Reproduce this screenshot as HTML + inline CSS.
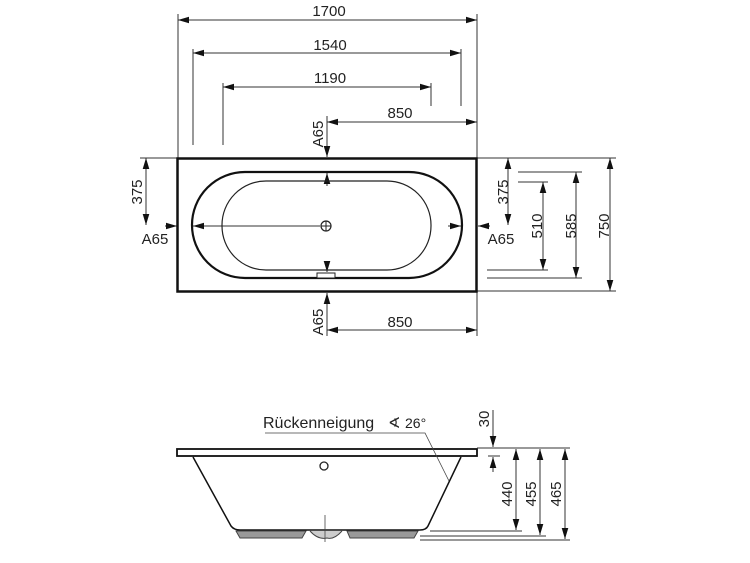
<!DOCTYPE html>
<html><head><meta charset="utf-8"><style>
html,body{margin:0;padding:0;background:#fff;}
svg{display:block;}
text{font-family:"Liberation Sans",sans-serif;font-size:15px;fill:#222;}
</style></head><body>
<svg width="750" height="563" viewBox="0 0 750 563" xmlns="http://www.w3.org/2000/svg">
<defs>
<marker id="a" viewBox="0 0 10 6" refX="10" refY="3" markerWidth="11" markerHeight="7" markerUnits="userSpaceOnUse" orient="auto-start-reverse"><path d="M0,0L10,3L0,6z" fill="#111"/></marker>
</defs>
<g stroke="#333" stroke-width="1" fill="none">
<line x1="178" y1="20" x2="477" y2="20" marker-start="url(#a)" marker-end="url(#a)"/>
<line x1="193" y1="53" x2="461" y2="53" marker-start="url(#a)" marker-end="url(#a)"/>
<line x1="223" y1="87" x2="431" y2="87" marker-start="url(#a)" marker-end="url(#a)"/>
<line x1="327" y1="122" x2="477" y2="122" marker-start="url(#a)" marker-end="url(#a)"/>
<line x1="178" y1="14" x2="178" y2="158"/>
<line x1="477" y1="14" x2="477" y2="158"/>
<line x1="193" y1="49" x2="193" y2="145"/>
<line x1="461" y1="49" x2="461" y2="106"/>
<line x1="223" y1="83" x2="223" y2="145"/>
<line x1="431" y1="83" x2="431" y2="106"/>
<line x1="327" y1="116" x2="327" y2="157" marker-end="url(#a)"/>
<line x1="327" y1="186" x2="327" y2="173" marker-end="url(#a)"/>
<line x1="327" y1="262" x2="327" y2="272" marker-end="url(#a)"/>
<line x1="327" y1="336" x2="327" y2="293" marker-end="url(#a)"/>
<line x1="327" y1="330" x2="477" y2="330" marker-start="url(#a)" marker-end="url(#a)"/>
<line x1="477" y1="292" x2="477" y2="336"/>
<line x1="140" y1="158" x2="177" y2="158"/>
<line x1="146" y1="158" x2="146" y2="225" marker-start="url(#a)" marker-end="url(#a)"/>
<line x1="165" y1="226" x2="177" y2="226" marker-end="url(#a)"/>
<line x1="205" y1="226" x2="193" y2="226" marker-end="url(#a)"/>
<line x1="205" y1="226" x2="320" y2="226"/>
<line x1="448" y1="226" x2="461" y2="226" marker-end="url(#a)"/>
<line x1="490" y1="226" x2="478" y2="226" marker-end="url(#a)"/>
<line x1="477" y1="158" x2="616" y2="158"/>
<line x1="477" y1="291" x2="616" y2="291"/>
<line x1="518" y1="172" x2="582" y2="172"/>
<line x1="518" y1="182" x2="548" y2="182"/>
<line x1="487" y1="270" x2="548" y2="270"/>
<line x1="487" y1="278" x2="582" y2="278"/>
<line x1="508" y1="158" x2="508" y2="225" marker-start="url(#a)" marker-end="url(#a)"/>
<line x1="543" y1="182" x2="543" y2="270" marker-start="url(#a)" marker-end="url(#a)"/>
<line x1="576" y1="172" x2="576" y2="278" marker-start="url(#a)" marker-end="url(#a)"/>
<line x1="610" y1="158" x2="610" y2="291" marker-start="url(#a)" marker-end="url(#a)"/>
</g>
<rect x="177.5" y="158.5" width="299" height="133" fill="none" stroke="#111" stroke-width="2.5"/>
<rect x="192" y="172" width="270" height="106" rx="53" ry="53" fill="none" stroke="#111" stroke-width="2.2"/>
<rect x="222" y="181" width="209" height="89" rx="44" ry="44" fill="none" stroke="#222" stroke-width="1.2"/>
<circle cx="326" cy="226" r="5" fill="#fff" stroke="#222" stroke-width="1.2"/>
<line x1="321" y1="226" x2="331" y2="226" stroke="#222"/>
<line x1="326" y1="221" x2="326" y2="231" stroke="#222"/>
<rect x="317" y="273" width="18" height="5" fill="#fff" stroke="#222" stroke-width="1"/>
<text x="329" y="16" text-anchor="middle">1700</text>
<text x="330" y="50" text-anchor="middle">1540</text>
<text x="330" y="83" text-anchor="middle">1190</text>
<text x="400" y="118" text-anchor="middle">850</text>
<text x="400" y="327" text-anchor="middle">850</text>
<text transform="translate(323,134) rotate(-90)" text-anchor="middle">A65</text>
<text transform="translate(323,322) rotate(-90)" text-anchor="middle">A65</text>
<text transform="translate(142,192) rotate(-90)" text-anchor="middle">375</text>
<text x="155" y="244" text-anchor="middle">A65</text>
<text x="501" y="244" text-anchor="middle">A65</text>
<text transform="translate(508,192) rotate(-90)" text-anchor="middle">375</text>
<text transform="translate(542,226) rotate(-90)" text-anchor="middle">510</text>
<text transform="translate(576,226) rotate(-90)" text-anchor="middle">585</text>
<text transform="translate(609,226) rotate(-90)" text-anchor="middle">750</text>
<rect x="177" y="449" width="300" height="7" fill="#fff" stroke="#111" stroke-width="1.8"/>
<path d="M193,457 L231,526 Q234,530 240,530 L420,530 Q426,530 428,526 L461,457" fill="none" stroke="#111" stroke-width="1.5"/>
<path d="M236,531 L306,531 L302,538 L240,538 Z" fill="#999" stroke="#444" stroke-width="1"/>
<path d="M347,531 L418,531 L414,538 L350,538 Z" fill="#999" stroke="#444" stroke-width="1"/>
<path d="M310,531 Q318,540 327,538 Q334,540 342,531" fill="#ccc" stroke="#444" stroke-width="1"/>
<circle cx="324" cy="466" r="4" fill="#fff" stroke="#222" stroke-width="1.3"/>
<line x1="325" y1="515" x2="325" y2="542" stroke="#444" stroke-width="0.8"/>
<polyline points="265,433 425,433 449,481" stroke="#444" stroke-width="0.8" fill="none"/>
<text x="263" y="428" style="font-size:16px">Rückenneigung</text>
<text x="388" y="428" style="font-size:15px">∢</text>
<text x="405" y="428" style="font-size:14px">26°</text>
<g stroke="#333" stroke-width="1" fill="none">
<line x1="477" y1="448" x2="570" y2="448"/>
<line x1="488" y1="456" x2="500" y2="456"/>
<line x1="430" y1="531" x2="522" y2="531"/>
<line x1="420" y1="536" x2="546" y2="536"/>
<line x1="420" y1="540" x2="570" y2="540"/>
<line x1="493" y1="410" x2="493" y2="447" marker-end="url(#a)"/>
<line x1="493" y1="472" x2="493" y2="457" marker-end="url(#a)"/>
<line x1="516" y1="449" x2="516" y2="530" marker-start="url(#a)" marker-end="url(#a)"/>
<line x1="540" y1="449" x2="540" y2="535" marker-start="url(#a)" marker-end="url(#a)"/>
<line x1="565" y1="449" x2="565" y2="539" marker-start="url(#a)" marker-end="url(#a)"/>
</g>
<text transform="translate(489,419) rotate(-90)" text-anchor="middle">30</text>
<text transform="translate(512,494) rotate(-90)" text-anchor="middle">440</text>
<text transform="translate(536,494) rotate(-90)" text-anchor="middle">455</text>
<text transform="translate(561,494) rotate(-90)" text-anchor="middle">465</text>
</svg>
</body></html>
